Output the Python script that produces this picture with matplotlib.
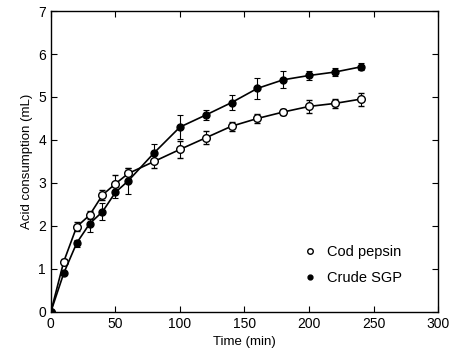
import matplotlib as mpl
mpl.use('Agg')
import matplotlib.pyplot as plt

#
#--- data
#
time_min   = [0, 10, 20, 30, 40, 50, 60, 80, 100, 120, 140, 160, 180, 200, 220, 240]

cod_pepsin = [0, 1.17, 1.98, 2.25, 2.72, 2.98, 3.22, 3.50, 3.78, 4.05, 4.32, 4.50, 4.65, 4.78, 4.85, 4.95]
cod_err    = [0, 0.05, 0.10, 0.10, 0.12, 0.20, 0.12, 0.15, 0.20, 0.15, 0.10, 0.10, 0.08, 0.15, 0.10, 0.15]

crude_sgp  = [0, 0.90, 1.60, 2.05, 2.33, 2.78, 3.05, 3.70, 4.30, 4.58, 4.87, 5.20, 5.40, 5.50, 5.58, 5.70]
crude_err  = [0, 0.05, 0.08, 0.20, 0.20, 0.12, 0.30, 0.20, 0.28, 0.12, 0.18, 0.25, 0.20, 0.10, 0.10, 0.08]

xticks = [0, 50, 100, 150, 200, 250, 300]
yticks = [0, 1, 2, 3, 4, 5, 6, 7]

plt.rcParams['font.family'] = 'Liberation Sans'
plt.rcParams['font.size'] = 9

fig = plt.figure(figsize=(4.54, 3.56), dpi=100)
ax = fig.add_axes([0.112, 0.124, 0.853, 0.845])

#
#--- cod pepsin (open circles)
#
ax.errorbar(time_min, cod_pepsin, yerr=cod_err, color='black', lw=1.2,
            marker='o', markersize=5.5, markerfacecolor='white', markeredgecolor='black',
            markeredgewidth=1.0, ecolor='black', elinewidth=0.8, capsize=2.5, capthick=0.8)
#
#--- crude SGP (filled circles)
#
ax.errorbar(time_min, crude_sgp, yerr=crude_err, color='black', lw=1.2,
            marker='o', markersize=5, markerfacecolor='black', markeredgecolor='black',
            ecolor='black', elinewidth=0.8, capsize=2.5, capthick=0.8)

ax.set_xlim(0, 300)
ax.set_ylim(0, 7)
ax.set_xticks(xticks)
ax.set_yticks(yticks)
ax.tick_params(direction='in', top=True, right=True, length=4, width=0.8, labelsize=10)
for s in ax.spines.values():
    s.set_linewidth(1.0)

ax.set_xlabel('Time (min)', fontsize=9.5)
ax.set_ylabel('Acid consumption (mL)', fontsize=9.5)

#
#--- legend: markers only, no frame
#
h1, = ax.plot([], [], ls='none', marker='o', markersize=4, markerfacecolor='white',
              markeredgecolor='black')
h2, = ax.plot([], [], ls='none', marker='o', markersize=3.5, color='black')
leg = ax.legend([h1, h2], ['Cod pepsin', 'Crude SGP'], loc='upper left',
                bbox_to_anchor=(0.62, 0.265), frameon=False, fontsize=10.5,
                handlelength=0.8, handletextpad=0.8, labelspacing=0.8)

plt.savefig('out.png', dpi=100)
plt.close('all')
